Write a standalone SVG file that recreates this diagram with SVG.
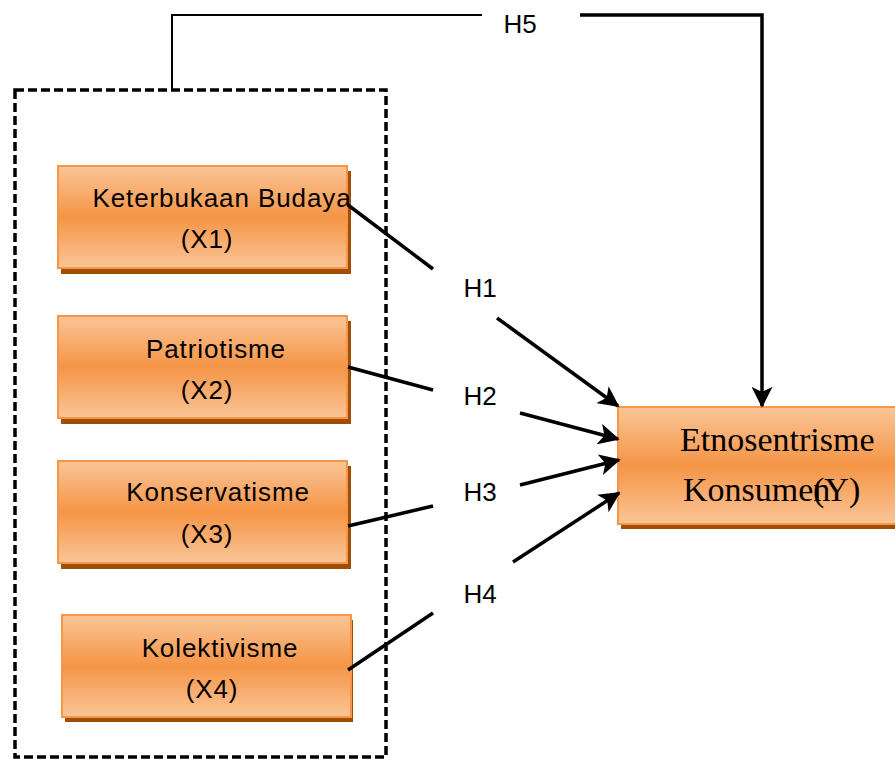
<svg xmlns="http://www.w3.org/2000/svg" width="895" height="760" viewBox="0 0 895 760">
<defs>
<linearGradient id="og" x1="0" y1="0" x2="0" y2="1">
<stop offset="0" stop-color="#fac598"/>
<stop offset="0.5" stop-color="#f59546"/>
<stop offset="1" stop-color="#fac598"/>
</linearGradient>
<marker id="ah" viewBox="0 0 12 12" refX="11" refY="6" markerWidth="6" markerHeight="6" markerUnits="strokeWidth" orient="auto">
<path d="M0,0 L12,6 L0,12 L3,6 Z" fill="#000"/>
</marker>
<style>
.box{fill:url(#og);stroke:#f79646;stroke-width:2}
.sh{fill:#a04d08}
.t{font-family:"Liberation Sans",Arial,sans-serif;font-size:26px;fill:#000;text-anchor:middle;letter-spacing:0.9px}
.ty{font-family:"Liberation Serif","Times New Roman",serif;font-size:34px;fill:#000}
.lbl{font-family:"Liberation Sans",Arial,sans-serif;font-size:26px;fill:#000;text-anchor:middle}
.c{stroke:#000;stroke-width:3.5;fill:none}
</style>
</defs>
<rect x="0" y="0" width="895" height="760" fill="#fff"/>
<g id="group-box">
<rect x="15" y="90" width="371" height="667" fill="none" stroke="#000" stroke-width="3.5" stroke-dasharray="9,4"/>
</g>
<g id="X1">
<rect class="sh" x="61" y="171" width="290" height="103"/>
<rect class="box" x="58" y="166" width="289" height="102"/>
<text class="t" x="222" y="207">Keterbukaan Budaya</text>
<text class="t" x="207" y="248">(X1)</text>
</g>
<g id="X2">
<rect class="sh" x="61" y="321" width="290" height="103"/>
<rect class="box" x="58" y="316" width="289" height="102"/>
<text class="t" x="216" y="358">Patriotisme</text>
<text class="t" x="207" y="399">(X2)</text>
</g>
<g id="X3">
<rect class="sh" x="61" y="466" width="290" height="103"/>
<rect class="box" x="58" y="461" width="289" height="102"/>
<text class="t" x="218" y="501">Konservatisme</text>
<text class="t" x="207" y="543">(X3)</text>
</g>
<g id="X4">
<rect class="sh" x="65" y="620" width="288" height="102"/>
<rect class="box" x="62" y="615" width="289" height="102"/>
<text class="t" x="220" y="657">Kolektivisme</text>
<text class="t" x="212" y="698">(X4)</text>
</g>
<g id="Y">
<rect class="sh" x="621" y="412" width="280" height="117"/>
<rect class="box" x="618" y="407" width="285" height="117"/>
<text class="ty" x="680" y="451">Etnosentrisme</text>
<text class="ty" x="683" y="501">Konsumen<tspan x="813">(Y)</tspan></text>
</g>
<g id="connectors">
<path d="M172,90 V15 H482" stroke="#000" stroke-width="2" fill="none"/>
<path d="M580,15 H762 V406" class="c" stroke-width="3" marker-end="url(#ah)"/>
<text class="lbl" x="520" y="33">H5</text>
<line class="c" x1="348" y1="205" x2="433" y2="269"/>
<line class="c" x1="497" y1="318" x2="618" y2="406" marker-end="url(#ah)"/>
<text class="lbl" x="480" y="297">H1</text>
<line class="c" x1="348" y1="367" x2="433" y2="390"/>
<line class="c" x1="520" y1="413" x2="618" y2="439" marker-end="url(#ah)"/>
<text class="lbl" x="480" y="405">H2</text>
<line class="c" x1="348" y1="526" x2="433" y2="506"/>
<line class="c" x1="520" y1="485" x2="619" y2="460" marker-end="url(#ah)"/>
<text class="lbl" x="480" y="501">H3</text>
<line class="c" x1="348" y1="670" x2="433" y2="613"/>
<line class="c" x1="513" y1="562" x2="619" y2="493" marker-end="url(#ah)"/>
<text class="lbl" x="480" y="603">H4</text>
</g>
</svg>
